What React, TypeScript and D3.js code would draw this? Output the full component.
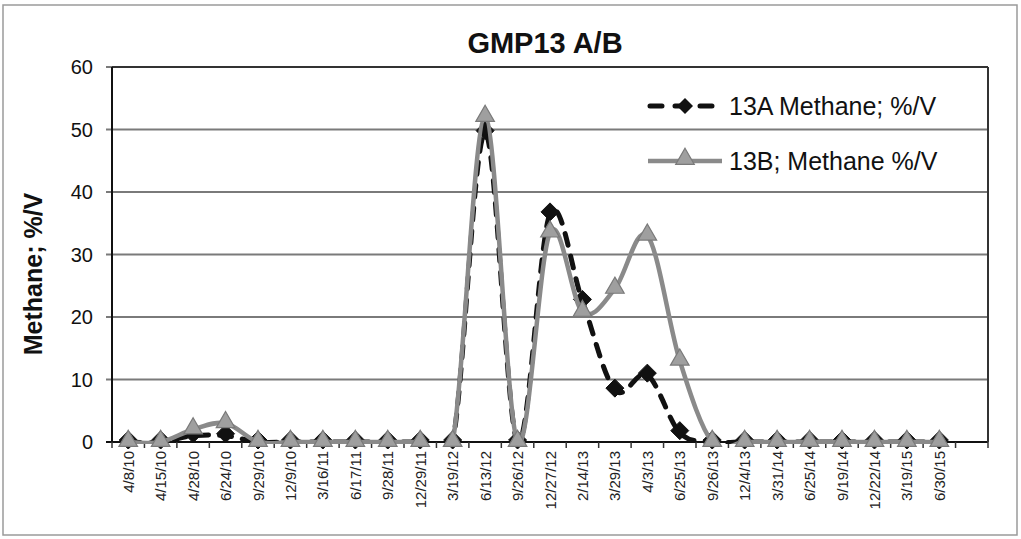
import React from 'react';
import * as d3 from 'd3';

const categories = ['4/8/10','4/15/10','4/28/10','6/24/10','9/29/10','12/9/10','3/16/11','6/17/11','9/28/11','12/29/11','3/19/12','6/13/12','9/26/12','12/27/12','2/14/13','3/29/13','4/3/13','6/25/13','9/26/13','12/4/13','3/31/14','6/25/14','9/19/14','12/22/14','3/19/15','6/30/15',''];
const series13A: (number | null)[] = [0,0,1,1,0,0,0,0,0,0,0,49.5,0,36.5,22.5,8.3,10.7,1.5,0,0,0,0,0,0,0,0,null];
const series13B: (number | null)[] = [0,0,2,3,0,0,0,0,0,0,0,52,0,33.5,20.8,24.5,33,13,0,0,0,0,0,0,0,0,null];
const yTicks = [0,10,20,30,40,50,60];
const title = 'GMP13 A/B';
const yLabel = 'Methane; %/V';
const legendA = '13A Methane; %/V';
const legendB = '13B; Methane %/V';

const W = 1021, H = 539;
const FONT = '"Liberation Sans", Arial, Helvetica, sans-serif';

export default function App() {
  const x = d3.scaleBand<string>().domain(categories).range([112, 988]).padding(0);
  const y = d3.scaleLinear().domain([0, 60]).range([442, 67]);
  const cx = (c: string) => (x(c) as number) + x.bandwidth() / 2;

  const line = d3.line<[string, number | null]>()
    .defined(d => d[1] != null)
    .x(d => cx(d[0]))
    .y(d => y(d[1] as number))
    .curve(d3.curveCatmullRom.alpha(0));

  const ptsA = categories.map((c, i) => [c, series13A[i]] as [string, number | null]);
  const ptsB = categories.map((c, i) => [c, series13B[i]] as [string, number | null]);

  const diamond = 'M0,-9L9,0L0,9L-9,0Z';
  const legDiamond = 'M0,-8L8,0L0,8L-8,0Z';
  const tri = d3.symbol(d3.symbolTriangle, 150)() as string;

  const [x0, x1] = x.range();
  const boundaries = d3.range(categories.length + 1).map(i => x0 + i * x.bandwidth());

  return (
    <svg width={W} height={H} style={{ position: 'absolute', left: 0, top: 0, background: '#fff' }} fontFamily={FONT}>
      <defs>
        <clipPath id="plotClip">
          <rect x={x0} y={y(60) - 12} width={x1 - x0} height={y(0) - y(60) + 14} />
        </clipPath>
      </defs>
      <rect x={3} y={5} width={1014} height={530} fill="#fff" stroke="#9a9a9a" strokeWidth={1.5} />
      <text x={545} y={53} textAnchor="middle" fontSize={29} fontWeight="bold" fill="#111">{title}</text>

      {yTicks.map(t => (
        <line key={'g' + t} x1={106} x2={x1} y1={y(t)} y2={y(t)} stroke={t === 0 ? '#111' : '#7a7a7a'} strokeWidth={2} />
      ))}
      <line x1={x0} x2={x1} y1={y(60)} y2={y(60)} stroke="#333" strokeWidth={2} />
      <line x1={x1} x2={x1} y1={y(60)} y2={y(0)} stroke="#333" strokeWidth={2} />
      <line x1={x0} x2={x0} y1={y(60)} y2={y(0)} stroke="#111" strokeWidth={2} />
      {boundaries.map((b, i) => (
        <line key={'t' + i} x1={b} x2={b} y1={y(0)} y2={y(0) + 6} stroke="#333" strokeWidth={1.5} />
      ))}
      {yTicks.map(t => (
        <text key={'yl' + t} x={93} y={y(t)} dy="0.35em" textAnchor="end" fontSize={20} fill="#111">{t}</text>
      ))}
      <text transform={`translate(42,274) rotate(-90)`} textAnchor="middle" fontSize={25} fontWeight="bold" fill="#111">{yLabel}</text>
      {categories.filter(c => c !== '').map(c => (
        <text key={'xl' + c} transform={`translate(${cx(c) + 5.5},451) rotate(-90)`} textAnchor="end" fontSize={15} fill="#222">{c}</text>
      ))}

      <path d={line(ptsA) || ''} fill="none" stroke="#111" strokeWidth={5} strokeDasharray="12,11" strokeLinecap="round" clipPath="url(#plotClip)" />
      {ptsA.filter(d => d[1] != null).map(d => (
        <path key={'a' + d[0]} d={diamond} transform={`translate(${cx(d[0])},${y(d[1] as number) - 2})`} fill="#111" stroke="#111" strokeWidth={1} />
      ))}
      <path d={line(ptsB) || ''} fill="none" stroke="#8a8a8a" strokeWidth={4.5} clipPath="url(#plotClip)" />
      {ptsB.filter(d => d[1] != null).map(d => (
        <path key={'b' + d[0]} d={tri} transform={`translate(${cx(d[0])},${y(d[1] as number) - 1})`} fill="#9f9f9f" stroke="#7a7a7a" strokeWidth={1.2} />
      ))}

      <g>
        <rect x={640} y={88} width={330} height={34} fill="#fff" />
        <rect x={640} y={143} width={330} height={34} fill="#fff" />
        <line x1={650} x2={720} y1={106} y2={106} stroke="#111" strokeWidth={5} strokeDasharray="12,13" strokeLinecap="round" />
        <path d={legDiamond} transform="translate(685,106)" fill="#111" />
        <text x={729} y={106} dy="0.35em" fontSize={25} fill="#111">{legendA}</text>
        <line x1={648} x2={722} y1={161} y2={161} stroke="#8a8a8a" strokeWidth={4.5} />
        <path d={tri} transform="translate(685,159)" fill="#9f9f9f" stroke="#7a7a7a" strokeWidth={1.2} />
        <text x={729} y={161} dy="0.35em" fontSize={25} fill="#111">{legendB}</text>
      </g>
    </svg>
  );
}
